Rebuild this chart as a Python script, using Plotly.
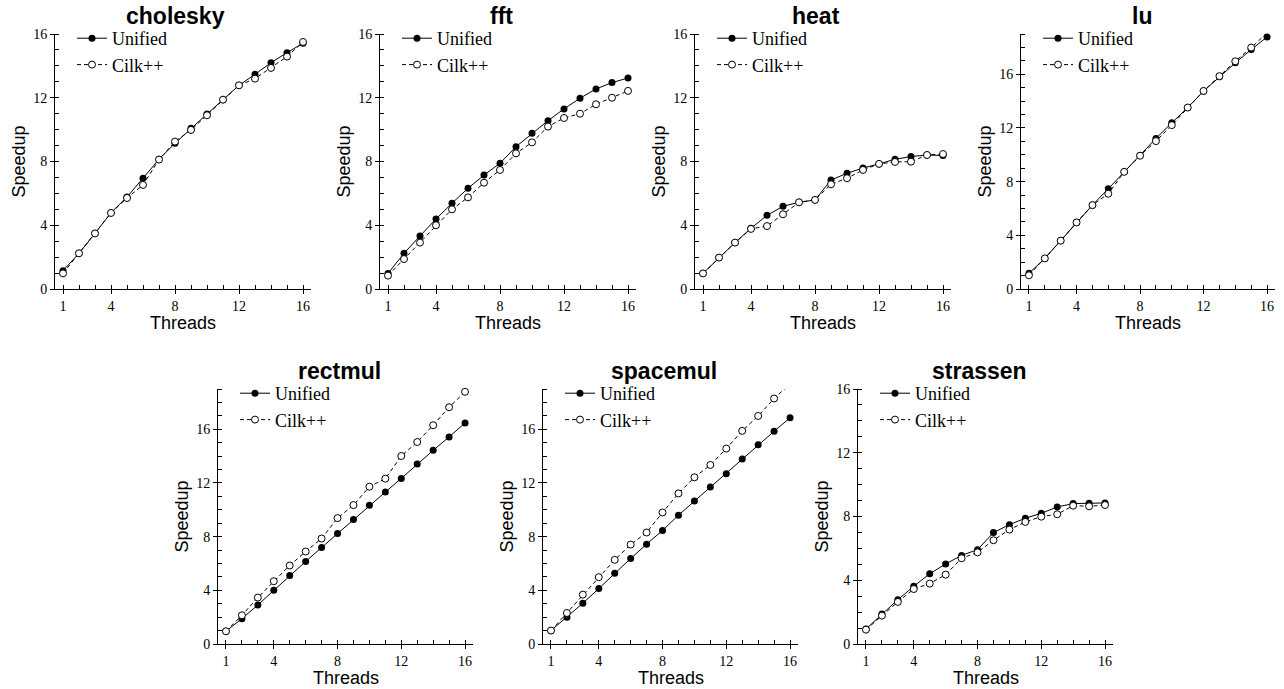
import plotly.graph_objects as go

threads = list(range(1, 17))

benchmarks = ["cholesky", "fft", "heat", "lu", "rectmul", "spacemul", "strassen"]

cholesky_unified = [1.15, 2.24, 3.49, 4.79, 5.77, 6.95, 8.14, 9.14, 10.08, 10.98, 11.88, 12.78, 13.47, 14.20, 14.83, 15.42]
cholesky_cilk = [0.98, 2.24, 3.49, 4.77, 5.71, 6.53, 8.12, 9.25, 9.98, 10.90, 11.88, 12.78, 13.20, 13.87, 14.58, 15.50]

fft_unified = [0.98, 2.24, 3.33, 4.39, 5.38, 6.32, 7.15, 7.89, 8.93, 9.77, 10.56, 11.30, 11.97, 12.55, 12.95, 13.24]
fft_cilk = [0.84, 1.88, 2.91, 4.00, 5.00, 5.75, 6.67, 7.47, 8.51, 9.20, 10.19, 10.73, 11.00, 11.59, 12.00, 12.43]

heat_unified = [0.98, 1.97, 2.91, 3.81, 4.62, 5.19, 5.44, 5.59, 6.84, 7.26, 7.59, 7.85, 8.14, 8.31, 8.41, 8.37]
heat_cilk = [0.98, 1.97, 2.91, 3.77, 3.95, 4.69, 5.44, 5.59, 6.57, 6.95, 7.47, 7.85, 7.97, 7.99, 8.41, 8.47]

lu_unified = [1.17, 2.28, 3.60, 4.96, 6.25, 7.47, 8.73, 9.95, 11.22, 12.38, 13.52, 14.74, 15.81, 16.85, 17.84, 18.78]
lu_cilk = [1.02, 2.28, 3.60, 4.96, 6.25, 7.10, 8.73, 9.93, 11.02, 12.21, 13.52, 14.76, 15.86, 16.97, 17.99, 19.08]

rectmul_unified = [0.95, 1.89, 2.91, 4.01, 5.10, 6.15, 7.19, 8.24, 9.28, 10.33, 11.32, 12.34, 13.41, 14.43, 15.43, 16.47]
rectmul_cilk = [0.95, 2.14, 3.46, 4.68, 5.85, 6.89, 7.86, 9.38, 10.35, 11.72, 12.32, 14.01, 15.05, 16.30, 17.64, 18.79]

spacemul_unified = [1.00, 1.99, 3.04, 4.13, 5.27, 6.37, 7.44, 8.46, 9.60, 10.65, 11.69, 12.69, 13.78, 14.85, 15.85, 16.85]
spacemul_cilk = [1.00, 2.31, 3.68, 4.98, 6.27, 7.41, 8.31, 9.80, 11.22, 12.42, 13.34, 14.56, 15.88, 16.99, 18.29, 19.38]

strassen_unified = [0.94, 1.88, 2.78, 3.62, 4.41, 5.02, 5.56, 5.92, 6.99, 7.49, 7.89, 8.20, 8.60, 8.81, 8.83, 8.85]
strassen_cilk = [0.90, 1.78, 2.64, 3.45, 3.79, 4.35, 5.38, 5.75, 6.51, 7.18, 7.66, 7.99, 8.14, 8.68, 8.64, 8.72]

unified_series = [cholesky_unified, fft_unified, heat_unified, lu_unified,
                  rectmul_unified, spacemul_unified, strassen_unified]
cilk_series = [cholesky_cilk, fft_cilk, heat_cilk, lu_cilk,
               rectmul_cilk, spacemul_cilk, strassen_cilk]
y_max = [16, 16, 16, 19, 19, 19, 16]

x_tickvals = [1, 4, 8, 12, 16]
y_tickvals = [0, 4, 8, 12, 16]

# ---- layout geometry (pixels of the 1284x689 window) ----
W, H = 1284, 689
panels_px = [  # left, right, top, bottom
    (55, 311, 34, 289),
    (380, 636, 34, 289),
    (695, 951, 34, 289),
    (1021, 1275, 34, 289),
    (218, 473, 389, 644),
    (543, 798, 389, 644),
    (858, 1113, 389, 644),
]

SERIF = "Liberation Serif"
SANS = "Liberation Sans"

fig = go.Figure()
layout = dict(
    width=W, height=H,
    margin=dict(l=0, r=0, t=0, b=0, autoexpand=False),
    paper_bgcolor="white", plot_bgcolor="white",
    showlegend=True,
    annotations=[],
)


def px_x(p):
    return p / W


def px_y(p):
    return 1 - p / H


for i, name in enumerate(benchmarks):
    n = "" if i == 0 else str(i + 1)
    left, right, top, bottom = panels_px[i]
    legname = "legend" + n
    fig.add_trace(go.Scatter(
        x=threads, y=unified_series[i], name="Unified", mode="lines+markers",
        line=dict(color="black", width=1),
        marker=dict(symbol="circle", size=7, color="black"),
        xaxis="x" + n, yaxis="y" + n, legend=legname, cliponaxis=False,
    ))
    fig.add_trace(go.Scatter(
        x=threads, y=cilk_series[i], name="Cilk++", mode="lines+markers",
        line=dict(color="black", width=1, dash="4px,3px"),
        marker=dict(symbol="circle", size=7, color="white",
                    line=dict(width=1, color="black")),
        xaxis="x" + n, yaxis="y" + n, legend=legname, cliponaxis=False,
    ))
    common = dict(
        showline=True, linecolor="black", linewidth=1, mirror=False,
        showgrid=False, zeroline=False,
        ticks="outside", ticklen=4, tickwidth=1, tickcolor="black",
        tickfont=dict(family=SERIF, size=14, color="black"),
        tickmode="array",
    )
    layout["xaxis" + n] = dict(
        common, domain=[px_x(left), px_x(right)], range=[0.5, 16.5],
        tickvals=x_tickvals, anchor="y" + n,
        minor=dict(dtick=1, tick0=0, ticks="inside", ticklen=4, tickcolor="black", showgrid=False),
    )
    layout["yaxis" + n] = dict(
        common, domain=[px_y(bottom), px_y(top)], range=[0, y_max[i]],
        tickvals=y_tickvals, anchor="x" + n,
        minor=dict(dtick=1, tick0=0, ticks="inside", ticklen=4, tickcolor="black", showgrid=False),
    )
    layout[legname] = dict(
        x=px_x(left + 17), y=px_y(top - 14), xanchor="left", yanchor="top",
        bgcolor="rgba(0,0,0,0)", borderwidth=0,
        font=dict(family=SERIF, size=18, color="black"),
        tracegroupgap=0, itemwidth=30,
    )
    # title
    layout["annotations"].append(dict(
        text="<b>%s</b>" % name, x=px_x(left + 121), y=px_y(top - 18),
        xref="paper", yref="paper", xanchor="center", yanchor="middle",
        showarrow=False, font=dict(family=SANS, size=23, color="black"),
    ))
    # axis titles
    layout["annotations"].append(dict(
        text="Speedup", x=px_x(left - 37), y=px_y((top + bottom) / 2),
        xref="paper", yref="paper", xanchor="center", yanchor="middle",
        textangle=-90, showarrow=False,
        font=dict(family=SANS, size=18, color="black"),
    ))
    layout["annotations"].append(dict(
        text="Threads", x=px_x(left + 8 + 7.5 * (right - left) / 16), y=px_y(bottom + 34),
        xref="paper", yref="paper", xanchor="center", yanchor="middle",
        showarrow=False, font=dict(family=SANS, size=18, color="black"),
    ))

fig.update_layout(**layout)
fig.write_html(
    "out.html",
    config={"displayModeBar": False},
    post_script="document.body.style.margin='0';document.body.style.overflow='hidden';",
)
